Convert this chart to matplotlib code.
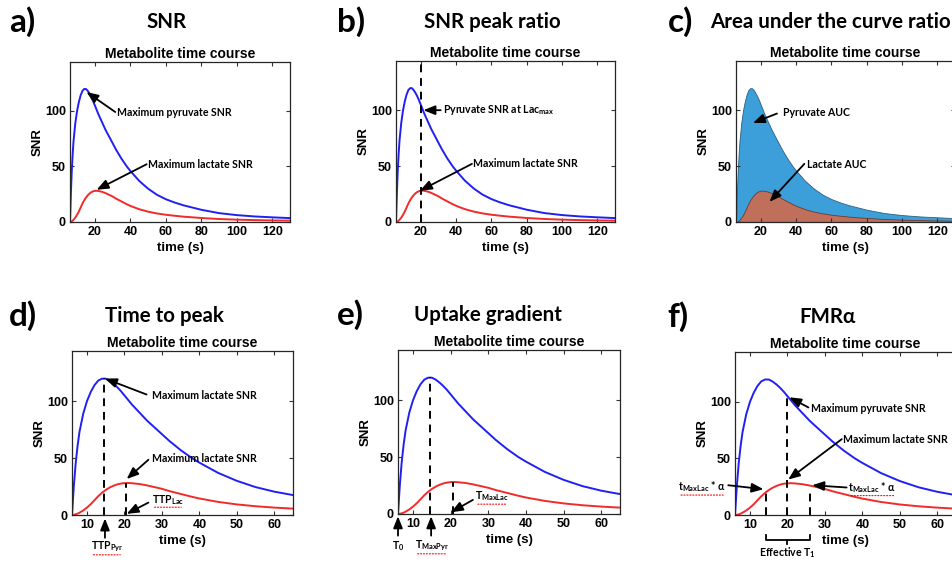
import matplotlib
matplotlib.use("Agg")
import matplotlib.pyplot as plt
import numpy as np

# values
time_s = [6, 6.5, 7, 7.5, 8, 9, 10, 11, 12, 13, 14, 15, 16, 17, 18, 19, 20, 21, 22,
          24, 26, 28, 30, 32, 35, 38, 40, 45, 50, 55, 60, 65, 70, 80, 90, 100, 110, 120, 130]
pyruvate_snr = [0, 26, 46, 61, 73, 89, 100, 108, 114, 118, 119.7, 119.7, 118, 115.5, 112.5, 109, 105, 101, 97,
                90, 83, 77, 71, 65, 57, 50, 46, 37, 30, 24.5, 20.5, 17.5, 15, 11, 8, 6.2, 5, 4.2, 3.5]
lactate_snr = [0, 0.2, 0.6, 1.2, 2, 4, 6.5, 9.5, 13, 16.5, 19.5, 22, 24, 25.6, 26.8, 27.6, 28, 28.1, 27.9,
               27.2, 26, 24.5, 23, 21, 18.5, 16, 14.5, 11.5, 9.3, 7.7, 6.5, 5.6, 4.8, 3.6, 2.7, 2.1, 1.7, 1.4, 1.2]

ttp_pyr, pyr_max = 14.5, 120
ttp_lac, lac_max = 20.5, 28
pyr_at_lac_max = 104
fmr_times = [14.3, 20, 26]
fmr_tops = [21, 103, 23]

long_ticks = [20, 40, 60, 80, 100, 120]
short_ticks = [10, 20, 30, 40, 50, 60]

W, H = 953, 562
LATO = ["Lato", "DejaVu Sans"]
HELV = ["Liberation Sans", "DejaVu Sans"]
plt.rcParams["mathtext.fontset"] = "custom"
plt.rcParams["mathtext.rm"] = "Lato:bold"
plt.rcParams["mathtext.default"] = "rm"

fig = plt.figure(figsize=(W / 100, H / 100), dpi=100)


def px_axes(l, r, t, b):
    return fig.add_axes([l / W, 1 - b / H, (r - l) / W, (b - t) / H])


def style(ax, xlim, xticks):
    ax.set_xlim(*xlim)
    ax.set_ylim(0, 144)
    ax.set_xticks(xticks)
    ax.set_yticks([0, 50, 100])
    ax.tick_params(direction="in", top=True, right=True, length=3, width=0.8,
                   labelsize=9, pad=3, color="#333333")
    for lab in ax.get_xticklabels() + ax.get_yticklabels():
        lab.set_fontweight("bold")
        lab.set_family(HELV)
    for s in ax.spines.values():
        s.set_linewidth(0.9)
        s.set_color("#262626")
    ax.set_title("Metabolite time course", fontsize=10, fontweight="bold", family=HELV, pad=3)
    ax.set_xlabel("time (s)", fontsize=9.5, fontweight="bold", family=HELV, labelpad=2.5)
    ax.set_ylabel("SNR", fontsize=9.5, fontweight="bold", family=HELV, labelpad=1)


def curves(ax):
    ax.plot(time_s, pyruvate_snr, color="#2020f5", lw=1.4)
    ax.plot(time_s, lactate_snr, color="#f22a2a", lw=1.4)


def arrow(ax, head, tail):
    ax.annotate("", xy=head, xytext=tail, annotation_clip=False,
                arrowprops=dict(arrowstyle="-|>,head_length=0.7,head_width=0.28",
                                color="black", lw=1.3, shrinkA=0, shrinkB=0))


def note(ax, x, y, s, ha="left", squiggle=False):
    t = ax.text(x, y, s, fontsize=7.6, fontweight="bold", family=LATO, ha=ha, va="center")
    if squiggle:
        ax.annotate("", xy=(1, -0.05), xycoords=t, xytext=(0, -0.05), textcoords=t,
                    arrowprops=dict(arrowstyle="-", color="red", lw=0.8, ls=":"))
    return t


def vdash(ax, x, top):
    ax.plot([x, x], [0, top], color="black", ls=(0, (4, 3)), lw=1.4, clip_on=False)


def header(letter, lx, title, tx, y, ha="center"):
    fig.text(lx / W, 1 - y / H, letter, fontsize=24, fontweight="bold", family=LATO, va="center")
    fig.text(tx / W, 1 - y / H, title, fontsize=14.8, fontweight="bold", family=LATO, va="center", ha=ha)


# a) SNR
header("a)", 9, "SNR", 167, 22)
ax = px_axes(70, 290, 62, 222)
curves(ax)
style(ax, (6, 130), long_ticks)
arrow(ax, (15.3, 117), (31.5, 99))
note(ax, 32.4, 99, "Maximum pyruvate SNR")
arrow(ax, (21, 29), (49.2, 52))
note(ax, 50, 52, "Maximum lactate SNR")

# b) SNR peak ratio
header("b)", 337, "SNR peak ratio", 492, 22)
ax = px_axes(396, 615, 61, 222)
curves(ax)
style(ax, (6, 130), long_ticks)
vdash(ax, ttp_lac - 0.5, 144)
arrow(ax, (21.5, 100), (31.3, 100))
note(ax, 32.8, 100, "Pyruvate SNR at Lac$_{max}$")
arrow(ax, (19.6, 28), (49, 52))
note(ax, 49.8, 52, "Maximum lactate SNR")

# c) Area under the curve ratio
header("c)", 668, "Area under the curve ratio", 710, 22, ha="left")
ax = px_axes(736, 955, 61, 222)
ax.fill_between(time_s, pyruvate_snr, color="#3d9fd9", edgecolor="#2c5f80", lw=0.6)
ax.fill_between(time_s, lactate_snr, color="#bf6f5a", edgecolor="#6e3a2c", lw=0.6)
style(ax, (6, 130), long_ticks)
arrow(ax, (15.6, 88.6), (29.2, 97))
note(ax, 32.6, 98, "Pyruvate AUC")
arrow(ax, (25, 18), (44.7, 52))
note(ax, 46.2, 51, "Lactate AUC")

# d) Time to peak
header("d)", 9, "Time to peak", 164, 316)
ax = px_axes(72, 293, 351, 515)
curves(ax)
style(ax, (6, 65), short_ticks)
vdash(ax, ttp_pyr, pyr_max)
vdash(ax, ttp_lac, lac_max)
arrow(ax, (14.8, 119.8), (25.9, 105.8))
note(ax, 27.3, 105, "Maximum lactate SNR")
arrow(ax, (20.6, 31.6), (26.4, 48.5))
note(ax, 27.3, 50, "Maximum lactate SNR")
arrow(ax, (20.6, 1), (26.4, 10.9))
note(ax, 27.3, 13.5, "TTP$_{Lac}$", squiggle=True)
arrow(ax, (14.8, -3), (14.8, -20))
note(ax, 15.3, -28, "TTP$_{Pyr}$", ha="center", squiggle=True)

# e) Uptake gradient
header("e)", 337, "Uptake gradient", 488, 315)
ax = px_axes(398, 620, 350, 514)
curves(ax)
style(ax, (6, 65), short_ticks)
vdash(ax, ttp_pyr, pyr_max)
vdash(ax, ttp_lac, lac_max)
arrow(ax, (20.1, 1.5), (25.9, 12.4))
note(ax, 26.5, 15.3, "T$_{MaxLac}$", squiggle=True)
arrow(ax, (6, -2), (6, -19))
note(ax, 6, -28, "T$_{0}$", ha="center")
arrow(ax, (14.8, -2), (14.8, -19))
note(ax, 15, -28, "T$_{MaxPyr}$", ha="center", squiggle=True)

# f) FMR alpha
header("f)", 667, "FMRα", 828, 317)
ax = px_axes(735, 956, 352, 515)
curves(ax)
style(ax, (6, 65), short_ticks)
for xt, top in zip(fmr_times, fmr_tops):
    vdash(ax, xt, top)
arrow(ax, (20.5, 104), (25.6, 95))
note(ax, 26.2, 94.5, "Maximum pyruvate SNR")
arrow(ax, (20.2, 31.3), (34.5, 67))
note(ax, 34.9, 66.4, "Maximum lactate SNR")
arrow(ax, (13.6, 22.8), (4.2, 26.3))
note(ax, 3.6, 24.8, "t$_{MaxLac}$ * α", ha="right", squiggle=True)
arrow(ax, (26.6, 26.3), (35.8, 24.3))
note(ax, 36.3, 24.3, "t$_{MaxLac}$ * α", squiggle=True)
lo, mid, hi = fmr_times
ax.plot([lo, lo, hi, hi], [-17.5, -21.9, -21.9, -17.5], color="black", lw=1.3, clip_on=False)
ax.plot([mid, mid], [-21.9, -25.4], color="black", lw=1.3, clip_on=False)
note(ax, mid, -33.5, "Effective T$_{1}$", ha="center")

fig.savefig("out.png", dpi=100)
